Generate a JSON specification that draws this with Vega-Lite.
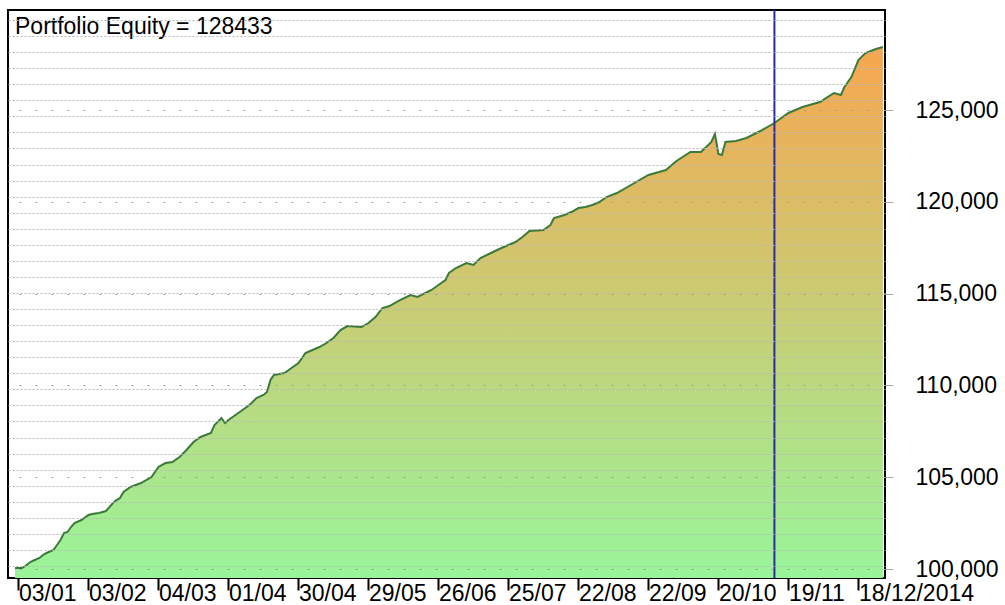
{
  "$schema": "https://vega.github.io/schema/vega-lite/v6.json",
  "width": 877,
  "height": 568,
  "autosize": {"type": "none"},
  "padding": {"left": 8, "top": 10, "right": 120, "bottom": 27},
  "background": "white",
  "config": {"view": {"stroke": "#000", "strokeWidth": 2}, "font": "Liberation Sans"},
  "title": {"text": "Portfolio Equity = 128433", "anchor": "start", "frame": "group", "offset": -48, "baseline": "alphabetic", "dx": 7, "fontSize": 23, "fontWeight": "normal", "color": "#000", "font": "Liberation Sans"},
  "datasets": {
    "equity": [
      {"d": 0, "v": 100054}, {"d": 2, "v": 100054}, {"d": 3, "v": 100163}, {"d": 4, "v": 100327},
      {"d": 5, "v": 100436}, {"d": 7, "v": 100599}, {"d": 8, "v": 100763}, {"d": 9, "v": 100871},
      {"d": 11, "v": 101035}, {"d": 12, "v": 101307}, {"d": 13, "v": 101580}, {"d": 14, "v": 101961},
      {"d": 15, "v": 102015}, {"d": 16, "v": 102288}, {"d": 17, "v": 102505}, {"d": 19, "v": 102669},
      {"d": 21, "v": 102941}, {"d": 22, "v": 102996}, {"d": 24, "v": 103050}, {"d": 26, "v": 103159},
      {"d": 28, "v": 103595}, {"d": 29, "v": 103758}, {"d": 30, "v": 103867}, {"d": 31, "v": 104194},
      {"d": 33, "v": 104466}, {"d": 36, "v": 104684}, {"d": 39, "v": 105011}, {"d": 41, "v": 105556},
      {"d": 43, "v": 105773}, {"d": 45, "v": 105828}, {"d": 47, "v": 106100}, {"d": 49, "v": 106481},
      {"d": 51, "v": 106917}, {"d": 53, "v": 107190}, {"d": 56, "v": 107407}, {"d": 57, "v": 107843},
      {"d": 59, "v": 108224}, {"d": 60, "v": 107952}, {"d": 61, "v": 108115}, {"d": 63, "v": 108388},
      {"d": 65, "v": 108660}, {"d": 67, "v": 108932}, {"d": 69, "v": 109314}, {"d": 71, "v": 109477},
      {"d": 72, "v": 109640}, {"d": 73, "v": 110294}, {"d": 74, "v": 110566}, {"d": 77, "v": 110675},
      {"d": 79, "v": 110948}, {"d": 81, "v": 111220}, {"d": 83, "v": 111765}, {"d": 85, "v": 111928},
      {"d": 87, "v": 112091}, {"d": 89, "v": 112309}, {"d": 91, "v": 112582}, {"d": 93, "v": 113017},
      {"d": 95, "v": 113235}, {"d": 99, "v": 113181}, {"d": 101, "v": 113399}, {"d": 103, "v": 113725},
      {"d": 105, "v": 114216}, {"d": 107, "v": 114325}, {"d": 110, "v": 114651}, {"d": 113, "v": 114924},
      {"d": 115, "v": 114815}, {"d": 119, "v": 115196}, {"d": 121, "v": 115468}, {"d": 123, "v": 115741},
      {"d": 124, "v": 116122}, {"d": 126, "v": 116394}, {"d": 129, "v": 116667}, {"d": 131, "v": 116558},
      {"d": 133, "v": 116939}, {"d": 136, "v": 117211}, {"d": 139, "v": 117484}, {"d": 141, "v": 117647},
      {"d": 143, "v": 117810}, {"d": 145, "v": 118083}, {"d": 147, "v": 118410}, {"d": 151, "v": 118464},
      {"d": 153, "v": 118736}, {"d": 154, "v": 119118}, {"d": 157, "v": 119281}, {"d": 159, "v": 119444},
      {"d": 161, "v": 119662}, {"d": 163, "v": 119717}, {"d": 165, "v": 119826}, {"d": 167, "v": 119989},
      {"d": 169, "v": 120261}, {"d": 172, "v": 120479}, {"d": 177, "v": 121024}, {"d": 181, "v": 121460},
      {"d": 186, "v": 121732}, {"d": 189, "v": 122222}, {"d": 193, "v": 122712}, {"d": 196, "v": 122712},
      {"d": 199, "v": 123257}, {"d": 200, "v": 123693}, {"d": 201, "v": 122603}, {"d": 202, "v": 122549},
      {"d": 203, "v": 123257}, {"d": 206, "v": 123312}, {"d": 209, "v": 123475}, {"d": 213, "v": 123856},
      {"d": 217, "v": 124292}, {"d": 221, "v": 124837}, {"d": 225, "v": 125163}, {"d": 230, "v": 125436},
      {"d": 234, "v": 125926}, {"d": 236, "v": 125817}, {"d": 237, "v": 126253}, {"d": 239, "v": 126797},
      {"d": 241, "v": 127723}, {"d": 243, "v": 128105}, {"d": 246, "v": 128323}, {"d": 248, "v": 128433}
    ],
    "cursor": [{"d": 217}]
  },
  "layer": [
    {
      "data": {"name": "equity"},
      "mark": {
        "type": "area",
        "color": {"gradient": "linear", "x1": 0, "y1": 0, "x2": 0, "y2": 1,
          "stops": [{"offset": 0, "color": "#f7a64f"}, {"offset": 1, "color": "#99f59a"}]}
      },
      "encoding": {
        "x": {
          "field": "d", "type": "quantitative",
          "scale": {"domain": [-2, 248.6], "nice": false, "zero": false},
          "axis": {
            "values": [1, 21, 41, 61, 81, 101, 121, 141, 161, 181, 201, 221, 241],
            "labelExpr": "['03/01','03/02','04/03','01/04','30/04','29/05','26/06','25/07','22/08','22/09','20/10','19/11','18/12/2014'][round((datum.value-1)/20)]",
            "labelAlign": "left", "labelDx": 4, "labelBaseline": "top", "labelPadding": -8,
            "tickSize": 12, "tickColor": "#000", "tickWidth": 2,
            "domain": false, "grid": false, "labelFontSize": 23, "labelColor": "#000",
            "labelBound": false, "labelOverlap": false, "labelFlush": false, "title": null
          }
        },
        "y": {
          "field": "v", "type": "quantitative",
          "scale": {"domain": [99510, 130447], "nice": false, "zero": false},
          "axis": {
            "orient": "right", "values": [100000, 105000, 110000, 115000, 120000, 125000],
            "labelExpr": "format(datum.value, ',')", "tickSize": 8, "tickColor": "#aaaaaa", "labelPadding": 22,
            "labelFontSize": 23, "labelColor": "#000", "domain": false,
            "grid": true, "gridColor": "#9a9a9a", "gridDash": [2, 14], "title": null, "zindex": 1
          }
        },
        "y2": {"datum": 99510}
      }
    },
    {
      "data": {"name": "equity"},
      "mark": {"type": "line", "color": "#3b7a3b", "strokeWidth": 2},
      "encoding": {
        "x": {"field": "d", "type": "quantitative"},
        "y": {
          "field": "v", "type": "quantitative",
          "axis": {
            "orient": "left",
            "values": [100163, 101038, 101912, 102787, 103662, 104536, 105411, 106286, 107161, 108035, 108910, 109785, 110659, 111534, 112409, 113284, 114158, 115033, 115908, 116782, 117657, 118532, 119407, 120281, 121156, 122031, 122905, 123780, 124655, 125530, 126404, 127279, 128154, 129028, 129903],
            "labels": false, "ticks": false, "domain": false,
            "grid": true, "gridColor": "#b8b8b8", "gridDash": [2, 2], "title": null, "zindex": 1
          }
        }
      }
    },
    {
      "data": {"name": "cursor"},
      "mark": {"type": "rule", "color": "#2b2b9e", "strokeWidth": 2},
      "encoding": {"x": {"field": "d", "type": "quantitative"}}
    }
  ],
  "resolve": {"axis": {"y": "independent"}}
}
